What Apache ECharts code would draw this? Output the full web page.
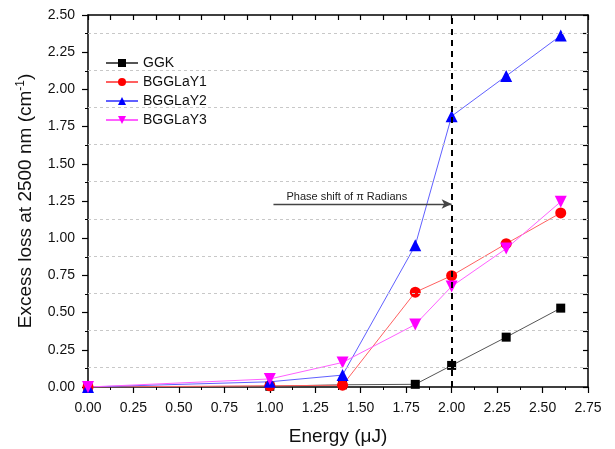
<!DOCTYPE html>
<html lang="en">
	<head>
		<meta charset="UTF-8" />
		<script src="https://cdn.jsdelivr.net/npm/echarts@6/dist/echarts.min.js"></script>
		<style>
			html, body { margin: 0; padding: 0; background: #fff; }
			#main { width: 615px; height: 449px; }
		</style>
	</head>
	<body>
		<div id="main"></div>
		<script>
			// energy (uJ) for every sample
			var energy = [0, 1.0, 1.4, 1.8, 2.0, 2.3, 2.6];
			// excess loss at 2500 nm (cm^-1)
			var ggk      = [0, 0.005, 0.015, 0.018, 0.145, 0.335, 0.53];
			var bgglay1  = [0, 0.008, 0.012, 0.637, 0.748, 0.963, 1.17];
			var bgglay2  = [0, 0.035, 0.08, 0.952, 1.82, 2.09, 2.362];
			var bgglay3  = [0, 0.054, 0.165, 0.42, 0.676, 0.93, 1.245];
			var seriesNames = ['GGK', 'BGGLaY1', 'BGGLaY2', 'BGGLaY3'];
			// dashed grid lines sit half way between the labelled ticks
			var gridLines = [0.125, 0.375, 0.625, 0.875, 1.125, 1.375, 1.625, 1.875, 2.125, 2.375];
			// phase shift marker and annotation arrow
			var phaseX = 2.0;
			var arrowFrom = [1.02, 1.23];
			var arrowTo = [2.0, 1.23];

			var font = 'Liberation Sans, Arial, sans-serif';
			var myChart = echarts.init(document.getElementById('main'));

			function pairs(ys) {
				return energy.map(function (x, i) { return [x, ys[i]]; });
			}

			function lineSeries(name, ys, symbol, size, color, lineColor) {
				return {
					name: name,
					type: 'line',
					data: pairs(ys),
					symbol: symbol,
					symbolSize: size,
					clip: true,
					itemStyle: { color: color },
					lineStyle: { color: lineColor, width: 1 },
					emphasis: { disabled: true },
					z: 3
				};
			}

			var s1 = lineSeries(seriesNames[0], ggk, 'rect', 9, '#000', '#555');
			var s2 = lineSeries(seriesNames[1], bgglay1, 'circle', 11, '#ff0000', '#ff6060');
			var s3 = lineSeries(seriesNames[2], bgglay2, 'triangle', 12, '#0000ff', '#6060ff');
			var s4 = lineSeries(seriesNames[3], bgglay3, 'path://M0,0 L10,0 L5,9 Z', 12, '#ff00ff', '#ff60ff');

			// vertical dashed line at 2.0 uJ
			s1.markLine = {
				silent: true,
				symbol: 'none',
				lineStyle: { color: '#000', type: [6, 5], width: 2 },
				label: { show: false },
				data: [{ xAxis: phaseX }]
			};
			// arrow with its text
			s2.markLine = {
				silent: true,
				symbol: ['none', 'arrow'],
				symbolSize: [7, 10],
				lineStyle: { color: '#444', type: 'solid', width: 1.3 },
				label: {
					show: true,
					position: 'insideStartTop',
					distance: [13, 2],
					formatter: 'Phase shift of π Radians',
					fontFamily: font,
					fontSize: 11,
					color: '#222'
				},
				data: [[{ coord: arrowFrom }, { coord: arrowTo }]]
			};

			// background grid, drawn under the data
			var gridSeries = {
				name: 'grid',
				type: 'line',
				data: [],
				silent: true,
				z: 1,
				markLine: {
					silent: true,
					symbol: 'none',
					lineStyle: { color: '#c8c8c8', type: [3, 3], width: 1 },
					label: { show: false },
					data: gridLines.map(function (v) { return { yAxis: v }; })
				}
			};

			myChart.setOption({
				animation: false,
				textStyle: { fontFamily: font },
				legend: {
					orient: 'vertical',
					left: 100,
					top: 51,
					itemWidth: 32,
					itemHeight: 10,
					itemGap: 5,
					textStyle: { fontSize: 14, color: '#111', fontFamily: font },
					data: seriesNames
				},
				grid: { left: 88, right: 27, top: 15, bottom: 62, outerBoundsMode: 'none' },
				xAxis: [
					{
						type: 'value',
						min: 0,
						max: 2.75,
						interval: 0.25,
						name: 'Energy (μJ)',
						nameLocation: 'middle',
						nameGap: 40,
						nameTextStyle: { fontSize: 19, color: '#111', fontFamily: font },
						axisLine: { onZero: false, lineStyle: { color: '#000', width: 1.5 } },
						axisTick: { inside: false, length: 6, lineStyle: { color: '#000', width: 1.2 } },
						minorTick: { show: true, splitNumber: 2, length: 3, lineStyle: { color: '#000' } },
						axisLabel: {
							margin: 14,
							fontSize: 14,
							color: '#111',
							formatter: function (v) { return v.toFixed(2); }
						},
						splitLine: { show: false }
					},
					{
						type: 'value',
						position: 'top',
						min: 0,
						max: 2.75,
						interval: 0.125,
						axisLine: { onZero: false, lineStyle: { color: '#000', width: 1.5 } },
						axisTick: { inside: true, length: 5, lineStyle: { color: '#000', width: 1.2 } },
						axisLabel: { show: false },
						splitLine: { show: false }
					}
				],
				yAxis: [
					{
						type: 'value',
						min: 0,
						max: 2.5,
						interval: 0.25,
						name: 'Excess loss at 2500 nm (cm{sup|-1})',
						nameLocation: 'middle',
						nameRotate: 90,
						nameGap: 52,
						nameTextStyle: {
							fontSize: 19,
							color: '#111',
							fontFamily: font,
							rich: {
								sup: { fontSize: 12, verticalAlign: 'top', padding: [0, 0, 9, 0], color: '#111', fontFamily: font }
							}
						},
						axisLine: { onZero: false, lineStyle: { color: '#000', width: 1.5 } },
						axisTick: { inside: false, length: 6, lineStyle: { color: '#000', width: 1.2 } },
						minorTick: { show: true, splitNumber: 2, length: 3, lineStyle: { color: '#000' } },
						axisLabel: {
							margin: 13,
							fontSize: 14,
							color: '#111',
							formatter: function (v) { return v.toFixed(2); }
						},
						splitLine: { show: false }
					},
					{
						type: 'value',
						position: 'right',
						min: 0,
						max: 2.5,
						interval: 0.125,
						axisLine: { show: true, onZero: false, lineStyle: { color: '#000', width: 1.5 } },
						axisTick: { show: true, inside: true, length: 5, lineStyle: { color: '#000', width: 1.2 } },
						axisLabel: { show: false },
						splitLine: { show: false }
					}
				],
				series: [gridSeries, s1, s2, s3, s4]
			});
		</script>
	</body>
</html>
